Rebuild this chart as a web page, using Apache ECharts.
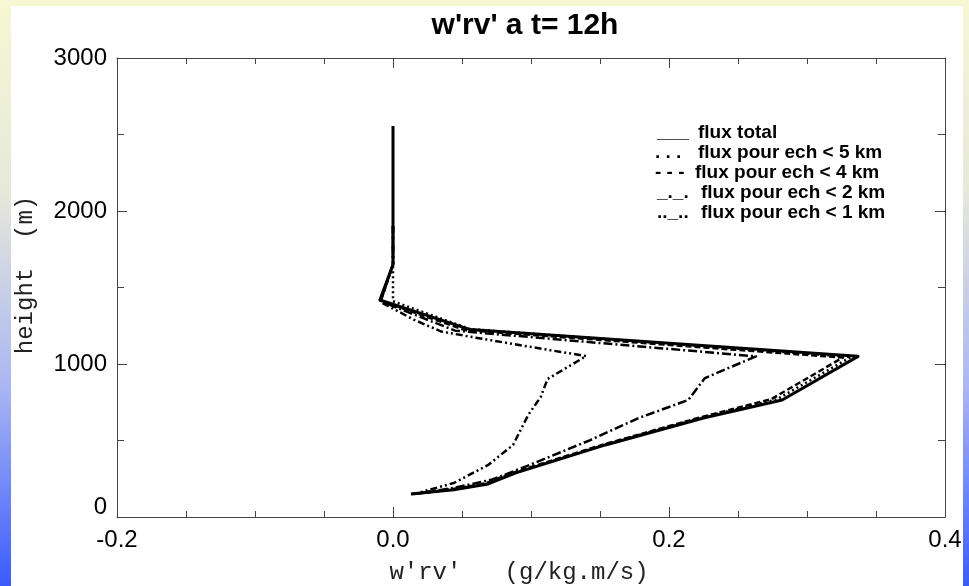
<!DOCTYPE html>
<html><head><meta charset="utf-8">
<script src="https://cdn.jsdelivr.net/npm/echarts@6/dist/echarts.min.js"></script>
<style>
html,body{margin:0;padding:0;width:969px;height:586px;overflow:hidden;
background:linear-gradient(to bottom,#f7f7d3 0%,#e6e8da 33%,#aab6f2 66%,#3b5bff 100%);}
#c{position:absolute;left:11px;top:6px;width:952px;height:580px;background:#fff;}
</style></head><body><div id="c"></div>
<script>
// ---- data ----
const xTickValues = [-0.2, 0.0, 0.2, 0.4];
const xTickLabels = ['-0.2', '0.0', '0.2', '0.4'];
const yTickValues = [0, 1000, 2000, 3000];
const yTickLabels = ['0', '1000', '2000', '3000'];

const seriesNames = ['flux total', 'flux pour ech < 5 km', 'flux pour ech < 4 km', 'flux pour ech < 2 km', 'flux pour ech < 1 km'];
const legendGlyphs = ['___', '. . .', '- - -', '_._.', '.._..'];

const fluxTotal = [[0,2555],[0,1650],[-0.0095,1418],[0.056,1225],[0.337,1050],[0.282,765],[0.225,647],[0.154,471],[0.089,288],[0.069,216],[0.044,178],[0.013,150]];
const fluxEch5 = [[0,1900],[0,1410],[0.056,1228],[0.332,1046],[0.278,768],[0.223,648],[0.153,472],[0.089,290],[0.068,218],[0.043,180],[0.014,150]];
const fluxEch4 = [[0,1900],[0,1650],[-0.009,1413],[0.052,1222],[0.326,1042],[0.274,770],[0.221,647],[0.151,470],[0.087,290],[0.067,220],[0.042,180],[0.015,150]];
const fluxEch2 = [[0,1900],[0,1650],[-0.009,1410],[0.045,1218],[0.263,1050],[0.226,908],[0.214,765],[0.178,647],[0.143,503],[0.099,340],[0.072,245],[0.045,192],[0.015,150]];
const fluxEch1 = [[0,1900],[0,1650],[-0.009,1405],[0.015,1290],[0.035,1212],[0.06,1172],[0.114,1090],[0.14,1052],[0.112,902],[0.107,784],[0.098,667],[0.087,471],[0.069,340],[0.044,222],[0.015,150]];

// ---- chart ----
const chart = echarts.init(document.getElementById('c'), null, {renderer: 'canvas'});
const axisColor = '#444';
const labelFont = {color: '#000', fontFamily: 'Liberation Sans, Arial, sans-serif', fontSize: 24};

function xFmt(v) {
  const i = xTickValues.findIndex(t => Math.abs(t - v) < 1e-9);
  return i >= 0 ? xTickLabels[i] : '';
}
function yFmt(v) {
  const i = yTickValues.findIndex(t => Math.abs(t - v) < 1e-9);
  if (i < 0) return '';
  return i === 0 ? '{z|' + yTickLabels[i] + '}' : yTickLabels[i];
}

const commonAxis = {
  axisLine: {show: true, onZero: false, lineStyle: {color: axisColor, width: 1}},
  axisTick: {show: true, inside: true, length: 10, lineStyle: {color: axisColor}},
  minorTick: {show: true, length: 6, lineStyle: {color: axisColor}},
  splitLine: {show: false},
  minorSplitLine: {show: false}
};

const lineDefs = [
  {data: fluxTotal, width: 3, type: 'solid'},
  {data: fluxEch5, width: 2.5, type: [2, 3]},
  {data: fluxEch4, width: 2.5, type: [6, 3]},
  {data: fluxEch2, width: 2.5, type: [9, 3, 2, 3]},
  {data: fluxEch1, width: 2.5, type: [7, 3, 2, 3, 2, 3]}
];

const legendGraphics = [];
const rowY0 = 126.7, rowDy = 20;
const symX = [646, 644, 644, 646, 646];
const txtX = [687, 687, 684, 690, 690];
const legendFont = 'bold 19px "Liberation Sans", Arial, sans-serif';
seriesNames.forEach((n, i) => {
  legendGraphics.push({type: 'text', x: symX[i], y: rowY0 + i * rowDy,
    style: {text: legendGlyphs[i], font: legendFont, fill: '#000', textAlign: 'left', textVerticalAlign: 'middle'}});
  legendGraphics.push({type: 'text', x: txtX[i], y: rowY0 + i * rowDy,
    style: {text: n, font: legendFont, fill: '#000', textAlign: 'left', textVerticalAlign: 'middle'}});
});

chart.setOption({
  animation: false,
  backgroundColor: '#fff',
  grid: {left: 106, right: 18, top: 52, bottom: 69, containLabel: false, outerBoundsMode: 'none'},
  xAxis: [
    Object.assign({}, commonAxis, {type: 'value', position: 'bottom', min: -0.2, max: 0.4, interval: 0.2,
      minorTick: {show: true, splitNumber: 4, length: 6, lineStyle: {color: axisColor}},
      axisLabel: Object.assign({}, labelFont, {margin: 11, formatter: xFmt, showMinLabel: true, showMaxLabel: true})}),
    Object.assign({}, commonAxis, {type: 'value', position: 'top', min: -0.2, max: 0.4, interval: 0.2,
      minorTick: {show: true, splitNumber: 4, length: 6, lineStyle: {color: axisColor}},
      axisLabel: {show: false}})
  ],
  yAxis: [
    Object.assign({}, commonAxis, {type: 'value', position: 'left', min: 0, max: 3000, interval: 1000,
      minorTick: {show: true, splitNumber: 2, length: 7, lineStyle: {color: axisColor}},
      axisLabel: Object.assign({}, labelFont, {margin: 10, formatter: yFmt, showMinLabel: true, showMaxLabel: true,
        rich: {z: Object.assign({}, labelFont, {padding: [0, 0, 20, 0]})}})}),
    Object.assign({}, commonAxis, {type: 'value', position: 'right', min: 0, max: 3000, interval: 1000,
      minorTick: {show: true, splitNumber: 2, length: 7, lineStyle: {color: axisColor}},
      axisLabel: {show: false}})
  ],
  graphic: [
    {type: 'text', x: 514, y: 20, style: {text: "w'rv' a t= 12h", font: 'bold 30px "Liberation Sans", Arial, sans-serif', fill: '#000', textAlign: 'center', textVerticalAlign: 'middle'}},
    {type: 'text', x: 508, y: 567, style: {text: "w'rv'   (g/kg.m/s)", font: '24px "Liberation Mono", monospace', fill: '#222', textAlign: 'center', textVerticalAlign: 'middle'}},
    {type: 'text', x: 15, y: 269, rotation: Math.PI / 2, style: {text: 'height  (m)', font: '24px "Liberation Mono", monospace', fill: '#222', textAlign: 'center', textVerticalAlign: 'middle'}}
  ].concat(legendGraphics),
  series: lineDefs.map((d, i) => ({
    name: seriesNames[i], type: 'line', xAxisIndex: 0, yAxisIndex: 0,
    data: d.data, showSymbol: false, symbol: 'none', smooth: false,
    lineStyle: {color: '#000', width: d.width, type: d.type, join: 'round'},
    z: 10 - i
  }))
});
</script></body></html>
